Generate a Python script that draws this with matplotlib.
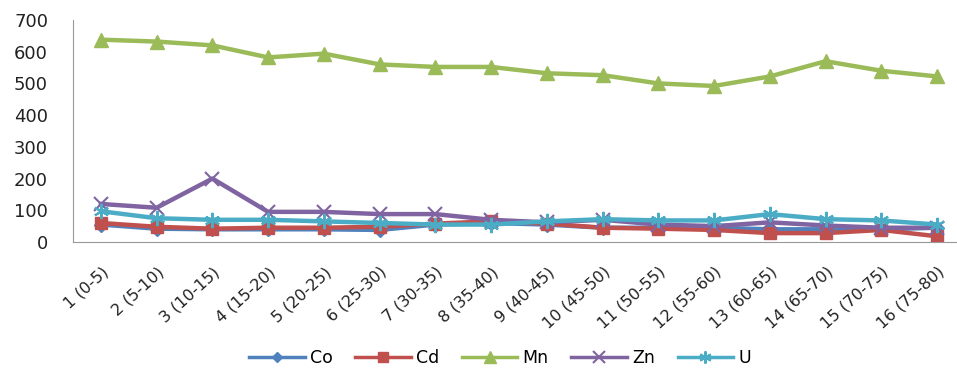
import matplotlib
matplotlib.use("Agg")
import matplotlib.pyplot as plt
from matplotlib.lines import Line2D
import matplotlib.transforms as mtransforms

categories = ["1 (0-5)", "2 (5-10)", "3 (10-15)", "4 (15-20)", "5 (20-25)", "6 (25-30)",
              "7 (30-35)", "8 (35-40)", "9 (40-45)", "10 (45-50)", "11 (50-55)", "12 (55-60)",
              "13 (60-65)", "14 (65-70)", "15 (70-75)", "16 (75-80)"]
co = [55, 42, 40, 40, 40, 38, 55, 60, 55, 45, 45, 45, 40, 40, 40, 45]
cd = [60, 48, 42, 45, 45, 48, 58, 65, 58, 45, 42, 38, 28, 28, 38, 18]
mn = [638, 632, 620, 582, 594, 560, 552, 552, 532, 526, 500, 492, 522, 570, 540, 522]
zn = [120, 108, 200, 95, 95, 88, 88, 70, 62, 70, 55, 50, 62, 52, 45, 45]
u = [97, 75, 70, 70, 65, 60, 55, 55, 65, 72, 68, 68, 88, 72, 68, 55]
yticks = [0, 100, 200, 300, 400, 500, 600, 700]

fig = plt.figure(figsize=(9.57, 3.75), dpi=100)
ax = fig.add_axes([73/957, 1-242/375, (965-73)/957, 222/375])

x = list(range(len(categories)))
series = [
    ("Co", co, "#4F81BD", "D", 7, {}),
    ("Cd", cd, "#C0504D", "s", 9, {}),
    ("Mn", mn, "#9BBB59", "^", 10, {}),
    ("Zn", zn, "#8064A2", "x", 10, {"mew": 1.5}),
    ("U", u, "#4BACC6", (6, 2, 0), 11, {"mew": 1.5}),
]
for name, vals, col, mk, ms, kw in series:
    ax.plot(x, vals, color=col, lw=3.2, marker=mk, ms=ms, mfc=col, mec=col, label=name, **kw)

ax.set_xlim(-0.5, len(categories) - 0.5)
ax.set_ylim(0, 700)
ax.set_yticks(yticks)
ax.set_yticklabels([str(v) for v in yticks], fontsize=13, color="#222222", family="DejaVu Sans")
ax.set_xticks(x)
ax.set_xticklabels(categories, rotation=42, ha="right", rotation_mode="anchor",
                   fontsize=11.5, color="#222222", family="DejaVu Sans")
offset = mtransforms.ScaledTranslation(6/100, 0, fig.dpi_scale_trans)
for lab in ax.get_xticklabels():
    lab.set_transform(lab.get_transform() + offset)
ax.tick_params(axis="y", length=0, pad=18)
ax.tick_params(axis="x", length=0, pad=16)
for s in ["top", "right"]:
    ax.spines[s].set_visible(False)
ax.spines["left"].set_color("#999999")
ax.spines["bottom"].set_color("#999999")

handles = []
for name, vals, col, mk, ms, kw in series:
    handles.append(Line2D([0], [0], color=col, lw=2.5, marker=mk, ms=ms*0.8, mfc=col, mec=col, **kw))
fig.legend(handles, [s[0] for s in series], loc="center", bbox_to_anchor=(500/957, 1-358/375),
           ncol=5, frameon=False, handlelength=3.2, columnspacing=1.3,
           handletextpad=0.3, prop={"family": "DejaVu Sans", "size": 12.5})

fig.savefig("out.png", dpi=100)
